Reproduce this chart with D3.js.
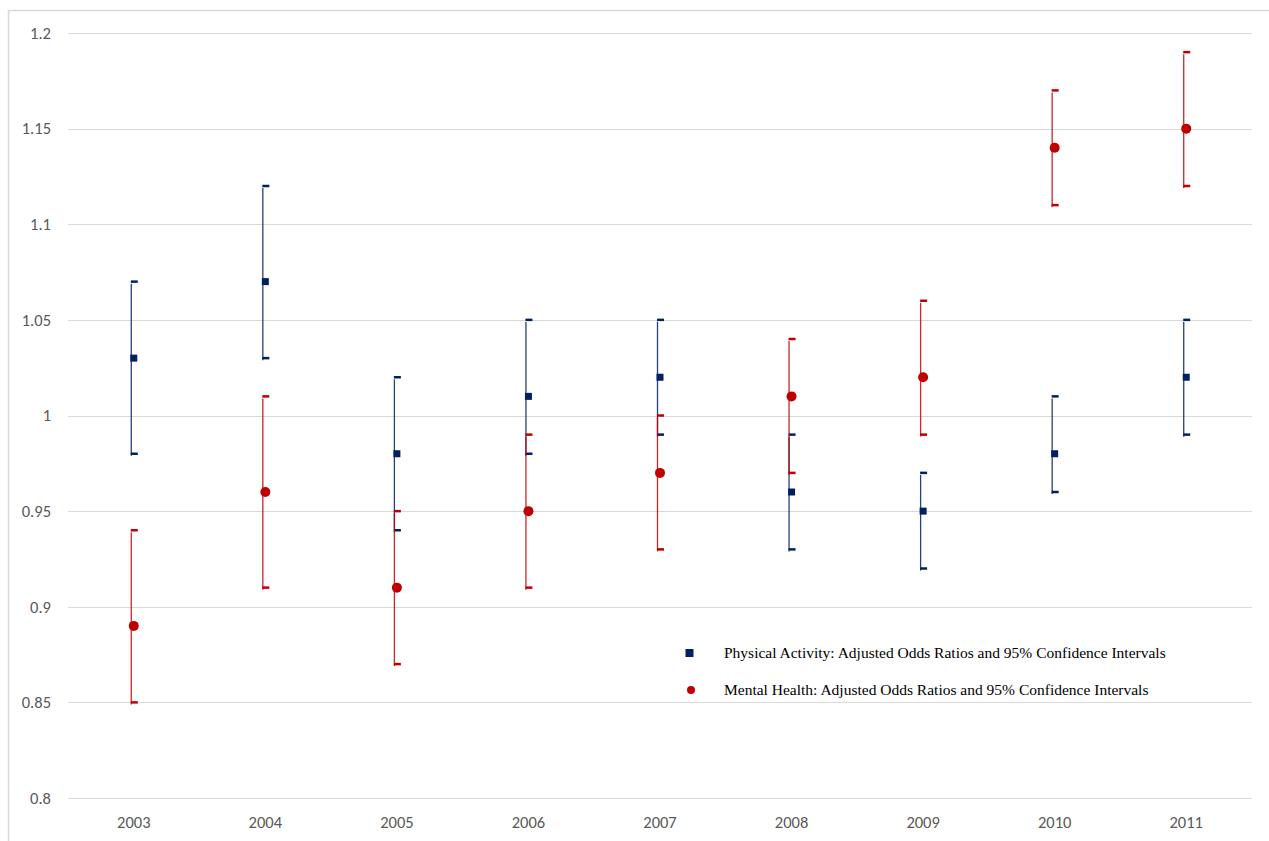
<!DOCTYPE html>
<html>
<head>
<meta charset="utf-8">
<script src="https://cdn.jsdelivr.net/npm/d3@7"></script>
<style>
  html, body { margin: 0; padding: 0; background: #fff; }
  svg { display: block; }
</style>
</head>
<body>
<script>
// Survey years on the category axis
const years = ["2003", "2004", "2005", "2006", "2007", "2008", "2009", "2010", "2011"];

// Physical activity: adjusted odds ratios with 95% CI bounds
const paOR    = [1.03, 1.07, 0.98, 1.01, 1.02, 0.96, 0.95, 0.98, 1.02];
const paLower = [0.98, 1.03, 0.94, 0.98, 0.99, 0.93, 0.92, 0.96, 0.99];
const paUpper = [1.07, 1.12, 1.02, 1.05, 1.05, 0.99, 0.97, 1.01, 1.05];

// Mental health: adjusted odds ratios with 95% CI bounds
const mhOR    = [0.89, 0.96, 0.91, 0.95, 0.97, 1.01, 1.02, 1.14, 1.15];
const mhLower = [0.85, 0.91, 0.87, 0.91, 0.93, 0.97, 0.99, 1.11, 1.12];
const mhUpper = [0.94, 1.01, 0.95, 0.99, 1.00, 1.04, 1.06, 1.17, 1.19];

// Y axis ticks
const yTicks = [0.8, 0.85, 0.9, 0.95, 1, 1.05, 1.1, 1.15, 1.2];

const legendLabels = [
  "Physical Activity: Adjusted Odds Ratios and 95% Confidence Intervals",
  "Mental Health: Adjusted Odds Ratios and 95% Confidence Intervals"
];

const W = 1269, H = 841;
const BLUE = "#002060", RED = "#C00000";
const axisFont = "Carlito, Lato, 'Open Sans', sans-serif";

const svg = d3.select("body").append("svg").attr("width", W).attr("height", H);

// chart frame (top and left edges visible)
svg.append("rect")
  .attr("x", 8.5).attr("y", 10.5)
  .attr("width", W + 20).attr("height", H + 20)
  .attr("fill", "none").attr("stroke", "#d9d9d9").attr("stroke-width", 1.5);

const x = d3.scaleBand().domain(years).range([68, 1252]);
const y = d3.scaleLinear().domain([0.8, 1.2]).range([798, 33]);

// gridlines
svg.append("g").selectAll("line").data(yTicks).join("line")
  .attr("x1", 68).attr("x2", 1252)
  .attr("y1", d => Math.round(y(d)) + 0.5).attr("y2", d => Math.round(y(d)) + 0.5)
  .attr("stroke", "#d9d9d9").attr("stroke-width", 1);

// y axis labels
const yAxis = d3.axisLeft(y).tickValues(yTicks).tickSize(0).tickPadding(0)
  .tickFormat(d => d3.format("")(+d.toFixed(2)));
const gy = svg.append("g").attr("transform", "translate(51,0)").call(yAxis);
gy.select(".domain").remove();
gy.selectAll("text").attr("font-family", axisFont).attr("font-size", 16.5).attr("fill", "#595959");

// x axis labels
const xAxis = d3.axisBottom(x).tickSize(0).tickPadding(0);
const gx = svg.append("g").attr("transform", "translate(0,816)").call(xAxis);
gx.select(".domain").remove();
gx.selectAll("text").attr("font-family", axisFont).attr("font-size", 16.5).attr("fill", "#595959");

function cx(i) { return x(years[i]) + x.bandwidth() / 2; }

function drawSeries(or, lo, hi, color, shape) {
  const g = svg.append("g");
  const idx = d3.range(or.length);
  // whisker
  g.selectAll("line.whisk").data(idx).join("line").attr("class", "whisk")
    .attr("x1", i => cx(i) - 2.5).attr("x2", i => cx(i) - 2.5)
    .attr("y1", i => y(hi[i]) + 2).attr("y2", i => y(lo[i]) + 2)
    .attr("stroke", color).attr("stroke-width", 1.3).attr("stroke-opacity", 0.85);
  // caps
  ["hi", "lo"].forEach(k => {
    const arr = k === "hi" ? hi : lo;
    g.selectAll("line.cap" + k).data(idx).join("line").attr("class", "cap" + k)
      .attr("x1", i => cx(i) - 3).attr("x2", i => cx(i) + 4)
      .attr("y1", i => y(arr[i])).attr("y2", i => y(arr[i]))
      .attr("stroke", color).attr("stroke-width", 2.5);
  });
  // markers
  if (shape === "square") {
    g.selectAll("rect.m").data(idx).join("rect").attr("class", "m")
      .attr("x", i => cx(i) - 3.5).attr("y", i => y(or[i]) - 3.5)
      .attr("width", 7).attr("height", 7).attr("fill", color);
  } else {
    g.selectAll("circle.m").data(idx).join("circle").attr("class", "m")
      .attr("cx", i => cx(i)).attr("cy", i => y(or[i]))
      .attr("r", 5).attr("fill", color);
  }
}

drawSeries(paOR, paLower, paUpper, BLUE, "square");
drawSeries(mhOR, mhLower, mhUpper, RED, "circle");

// legend
const lg = svg.append("g");
lg.append("rect").attr("x", 685.5).attr("y", 649).attr("width", 8).attr("height", 8).attr("fill", BLUE);
lg.append("circle").attr("cx", 691).attr("cy", 690).attr("r", 4).attr("fill", RED);
lg.selectAll("text").data(legendLabels).join("text")
  .attr("x", 724).attr("y", (d, i) => 658 + i * 37)
  .attr("font-family", "'Liberation Serif', 'Times New Roman', serif")
  .attr("font-size", 15.5).attr("fill", "#000")
  .text(d => d);
</script>
</body>
</html>
